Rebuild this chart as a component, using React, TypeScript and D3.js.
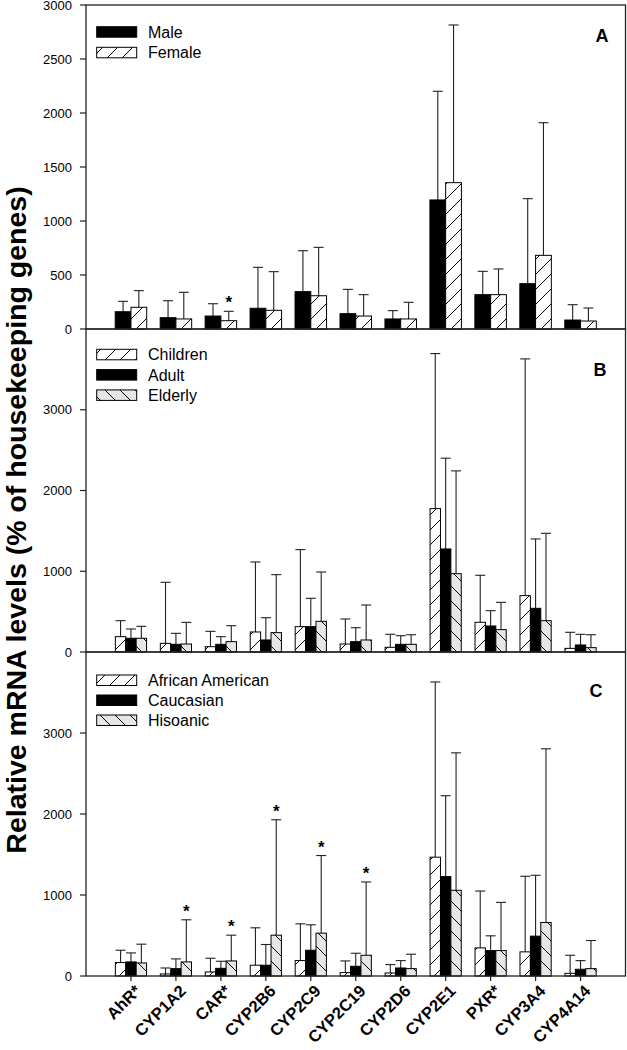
import React from "react";
import * as d3 from "d3";

const genes = ["AhR*", "CYP1A2", "CAR*", "CYP2B6", "CYP2C9", "CYP2C19", "CYP2D6", "CYP2E1", "PXR*", "CYP3A4", "CYP4A14"];

// Panel A: sex
const maleMean = [160, 105, 120, 192, 346, 142, 93, 1195, 318, 420, 83];
const maleSD = [96, 157, 114, 379, 379, 225, 77, 1006, 216, 787, 142];
const femaleMean = [201, 93, 77, 173, 308, 120, 93, 1355, 318, 682, 74];
const femaleSD = [154, 247, 87, 358, 448, 198, 154, 1460, 238, 1228, 120];

// Panel B: age
const childMean = [190, 107, 66, 248, 314, 99, 58, 1776, 368, 698, 45];
const childSD = [198, 756, 190, 867, 954, 310, 161, 1920, 582, 2932, 199];
const adultMean = [170, 95, 95, 149, 314, 128, 95, 1276, 322, 541, 87];
const adultSD = [115, 136, 95, 276, 351, 173, 107, 1124, 190, 859, 132];
const elderMean = [170, 99, 128, 240, 380, 149, 95, 970, 277, 388, 54];
const elderSD = [148, 268, 198, 718, 611, 433, 119, 1273, 338, 1082, 160];

// Panel C: ethnicity
const aaMean = [166, 25, 50, 133, 191, 42, 37, 1467, 347, 298, 33];
const aaSD = [152, 74, 169, 462, 453, 144, 104, 2163, 702, 933, 223];
const caucMean = [174, 91, 95, 133, 318, 120, 99, 1227, 314, 492, 83];
const caucSD = [111, 120, 87, 256, 314, 161, 91, 999, 182, 751, 107];
const hispMean = [161, 174, 186, 504, 529, 256, 91, 1058, 314, 661, 91];
const hispSD = [232, 520, 318, 1425, 958, 905, 178, 1697, 595, 2144, 347];

const ticksA = [0, 500, 1000, 1500, 2000, 2500, 3000];
const ticksBC = [0, 1000, 2000, 3000];

const sigA = ["CAR*"];
const sigC = ["CYP1A2", "CAR*", "CYP2B6", "CYP2C9", "CYP2C19"];

const FONT = "'Liberation Sans', Arial, Helvetica, sans-serif";

type Series = { name: string; fill: string; mean: number[]; sd: number[] };

export default function App() {
  const W = 627, H = 1050, L = 86, R = 625.5;
  const x = d3.scalePoint<string>().domain(genes).range([L, R]).padding(1);

  const panels = [
    {
      key: "A", top: 5, bottom: 329, max: 3000, ticks: ticksA, groupW: 31.5,
      label: { x: 602, y: 41.7 }, legendTop: 26.7, legendStep: 20.6,
      series: [
        { name: "Male", fill: "black", mean: maleMean, sd: maleSD },
        { name: "Female", fill: "url(#fwd)", mean: femaleMean, sd: femaleSD },
      ] as Series[],
      sig: sigA, sigIdx: 1, xTicks: false,
    },
    {
      key: "B", top: 329, bottom: 652, max: 4000, ticks: ticksBC, groupW: 31.2,
      label: { x: 600, y: 376 }, legendTop: 349.3, legendStep: 20.3,
      series: [
        { name: "Children", fill: "url(#fwd)", mean: childMean, sd: childSD },
        { name: "Adult", fill: "black", mean: adultMean, sd: adultSD },
        { name: "Elderly", fill: "url(#bwd)", mean: elderMean, sd: elderSD },
      ] as Series[],
      sig: [] as string[], sigIdx: 2, xTicks: false,
    },
    {
      key: "C", top: 652, bottom: 976, max: 4000, ticks: ticksBC, groupW: 31.2,
      label: { x: 596, y: 696.7 }, legendTop: 675, legendStep: 20,
      series: [
        { name: "African American", fill: "url(#fwd)", mean: aaMean, sd: aaSD },
        { name: "Caucasian", fill: "black", mean: caucMean, sd: caucSD },
        { name: "Hisoanic", fill: "url(#bwd)", mean: hispMean, sd: hispSD },
      ] as Series[],
      sig: sigC, sigIdx: 2, xTicks: true,
    },
  ];

  const S = 15;
  return (
    <svg width={W} height={H} style={{ position: "absolute", left: 0, top: 0, background: "white" }} fontFamily={FONT}>
      <defs>
        <pattern id="fwd" patternUnits="userSpaceOnUse" width={S} height={S}>
          <rect width={S} height={S} fill="white" />
          <path d={`M0,${S} L${S},0 M${-S / 4},${S / 4} L${S / 4},${-S / 4} M${S * 0.75},${S * 1.25} L${S * 1.25},${S * 0.75}`} stroke="black" strokeWidth={1} />
        </pattern>
        <pattern id="bwd" patternUnits="userSpaceOnUse" width={S} height={S}>
          <rect width={S} height={S} fill="#e6e6e6" />
          <path d={`M0,0 L${S},${S} M${-S / 4},${S * 0.75} L${S / 4},${S * 1.25} M${S * 0.75},${-S / 4} L${S * 1.25},${S / 4}`} stroke="black" strokeWidth={1} />
        </pattern>
      </defs>
      <rect width={W} height={H} fill="white" />

      {panels.map((p) => {
        const y = d3.scaleLinear().domain([0, p.max]).range([p.bottom, p.top]);
        const inner = d3.scaleBand<string>().domain(p.series.map((s) => s.name)).range([-p.groupW / 2, p.groupW / 2]);
        const bw = inner.bandwidth();
        return (
          <g key={p.key}>
            {genes.map((g, gi) => (
              <g key={g}>
                {p.series.map((s) => {
                  const x0 = (x(g) as number) + (inner(s.name) as number);
                  const yt = y(s.mean[gi]);
                  const ye = y(s.mean[gi] + s.sd[gi]);
                  const cx = x0 + bw / 2;
                  return (
                    <g key={s.name}>
                      <line x1={cx} x2={cx} y1={yt} y2={ye} stroke="#222" strokeWidth={1.1} />
                      <line x1={cx - 5} x2={cx + 5} y1={ye} y2={ye} stroke="#222" strokeWidth={1.1} />
                      <rect x={x0} y={yt} width={bw} height={p.bottom - yt} fill={s.fill} stroke="black" strokeWidth={1} />
                    </g>
                  );
                })}
                {p.sig.includes(g) && (() => {
                  const s = p.series[p.sigIdx];
                  const cx = (x(g) as number) + (inner(s.name) as number) + bw / 2;
                  const ye = y(s.mean[gi] + s.sd[gi]);
                  return (
                    <text x={cx} y={ye - 3} textAnchor="middle" fontSize={17} fontWeight="bold">*</text>
                  );
                })()}
              </g>
            ))}
            <rect x={L} y={p.top} width={R - L} height={p.bottom - p.top} fill="none" stroke="#222" strokeWidth={1.3} />
            {p.ticks.map((t) => (
              <g key={t}>
                <line x1={L - 6} x2={L} y1={y(t)} y2={y(t)} stroke="#222" strokeWidth={1.2} />
                <text x={72} y={y(t)} dy="0.36em" textAnchor="end" fontSize={13}>{t}</text>
              </g>
            ))}
            <text x={p.label.x} y={p.label.y} textAnchor="middle" fontSize={18} fontWeight="bold">{p.key}</text>
            {p.series.map((s, i) => {
              const ty = p.legendTop + i * p.legendStep;
              return (
                <g key={s.name}>
                  <rect x={96.7} y={ty} width={40} height={10.5} fill={s.fill} stroke="black" strokeWidth={1} />
                  <text x={148} y={ty + 11} fontSize={16}>{s.name}</text>
                </g>
              );
            })}
            {p.xTicks && genes.map((g) => (
              <line key={g} x1={x(g)} x2={x(g)} y1={p.bottom} y2={p.bottom + 5} stroke="#222" strokeWidth={1.2} />
            ))}
          </g>
        );
      })}

      {genes.map((g) => (
        <text key={g} transform={`translate(${(x(g) as number) + 11},992) rotate(-45)`} textAnchor="end" fontSize={16.5} fontWeight="bold">{g}</text>
      ))}

      <text transform="translate(26,520) rotate(-90)" textAnchor="middle" fontSize={28.5} fontWeight="bold">
        Relative mRNA levels (% of housekeeping genes)
      </text>
    </svg>
  );
}
